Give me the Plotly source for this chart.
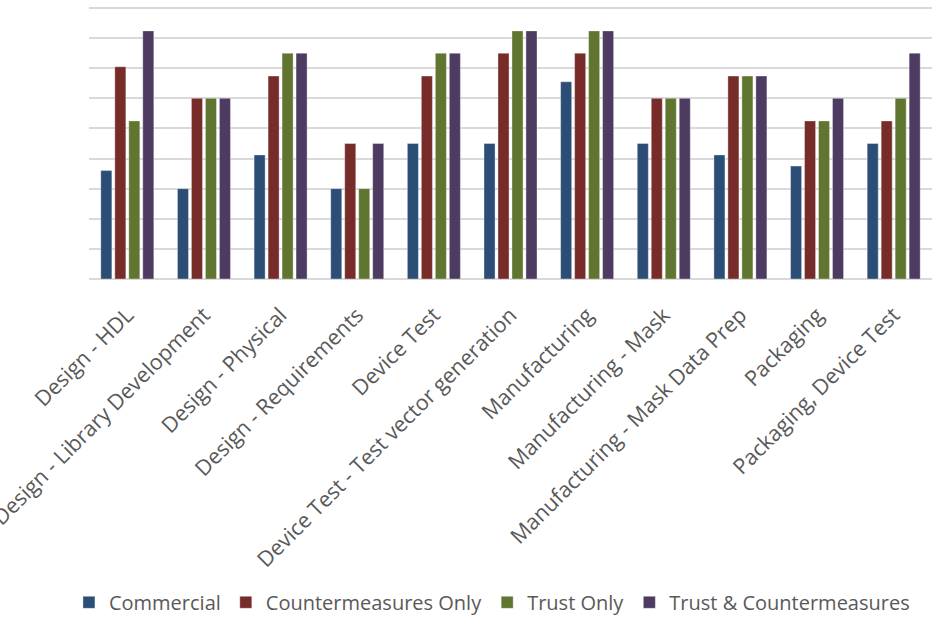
import plotly.graph_objects as go

categories = [
    "Design - HDL",
    "Design - Library Development",
    "Design - Physical",
    "Design - Requirements",
    "Device Test",
    "Device Test - Test vector generation",
    "Manufacturing",
    "Manufacturing - Mask",
    "Manufacturing - Mask Data Prep",
    "Packaging",
    "Packaging, Device Test",
]

commercial = [3.6, 3.0, 4.12, 3.0, 4.5, 4.5, 6.55, 4.5, 4.12, 3.75, 4.5]
countermeasures_only = [7.05, 6.0, 6.74, 4.5, 6.74, 7.5, 7.5, 6.0, 6.74, 5.25, 5.25]
trust_only = [5.25, 6.0, 7.5, 3.0, 7.5, 8.24, 8.24, 6.0, 6.74, 5.25, 6.0]
trust_and_countermeasures = [8.24, 6.0, 7.5, 4.5, 7.5, 8.24, 8.24, 6.0, 6.74, 6.0, 7.5]

series = [
    ("Commercial", commercial, "#2C4D75"),
    ("Countermeasures Only", countermeasures_only, "#772C2A"),
    ("Trust Only", trust_only, "#5F7530"),
    ("Trust & Countermeasures", trust_and_countermeasures, "#4D3B62"),
]

fig = go.Figure()
for name, values, color in series:
    fig.add_trace(go.Bar(
        x=categories,
        y=values,
        name=name,
        marker=dict(color=color, line=dict(color="rgba(255,255,255,0.6)", width=0.6)),
    ))

fig.update_layout(
    width=932,
    height=622,
    margin=dict(l=89, r=0, t=5, b=337),
    paper_bgcolor="white",
    plot_bgcolor="white",
    barmode="group",
    bargap=0.27,
    bargroupgap=0.21,
    font=dict(family="Open Sans", color="#595959"),
    showlegend=True,
    legend=dict(
        orientation="h",
        x=0.478,
        xanchor="center",
        y=-1.18,
        yanchor="middle",
        font=dict(family="Open Sans", size=20, color="#595959"),
        itemwidth=30,
        tracegroupgap=0,
    ),
    xaxis=dict(
        tickangle=-45,
        tickfont=dict(family="Open Sans", size=21.5, color="#595959"),
        showgrid=False,
        showline=False,
        ticks="outside",
        ticklen=14,
        tickcolor="rgba(0,0,0,0)",
        automargin=False,
    ),
    yaxis=dict(
        range=[0, 9.1],
        tickvals=list(range(0, 10)),
        showticklabels=False,
        showgrid=True,
        gridcolor="#D9D9D9",
        gridwidth=1.5,
        zeroline=True,
        zerolinecolor="#D9D9D9",
        zerolinewidth=1.5,
        automargin=False,
    ),
)

fig.write_html("out.html")
